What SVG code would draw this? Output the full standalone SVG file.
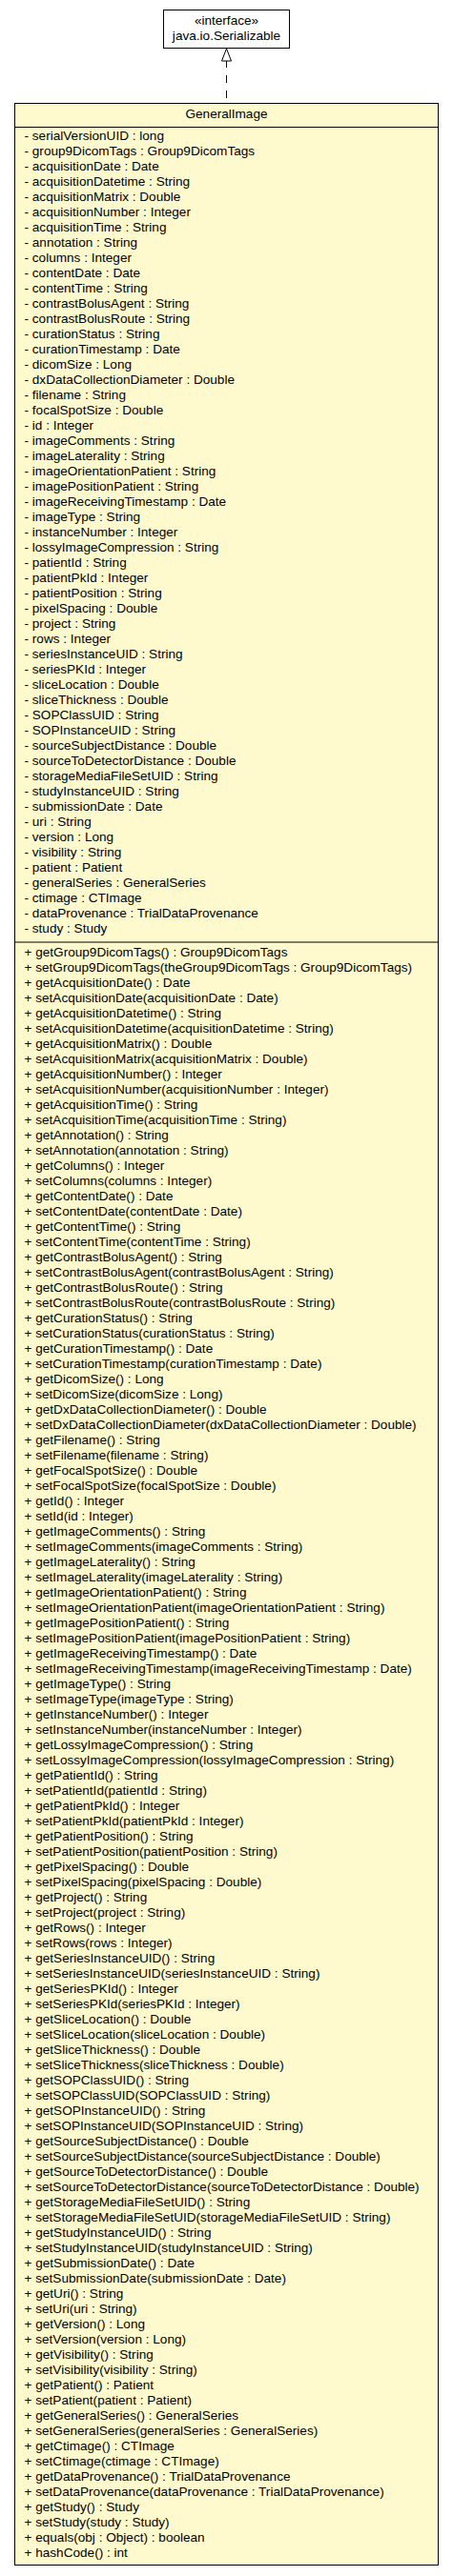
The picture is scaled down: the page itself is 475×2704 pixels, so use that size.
<svg xmlns="http://www.w3.org/2000/svg" width="475" height="2704" viewBox="0 0 475 2704">
<style>
text{font-family:"Liberation Sans",Arial,sans-serif;font-size:12.5px;fill:#000}
.c{text-anchor:middle}
.box{stroke:#000;stroke-width:1}
.cls{fill:#FFFACD}
.ifc{fill:#FFFFFF}
.sep{stroke:#000;stroke-width:1;fill:none}
.dep{stroke:#000;stroke-width:1;fill:none;stroke-dasharray:8,8}
.head{fill:#FFFFFF;stroke:#000;stroke-width:1}
</style>
<rect x="0" y="0" width="475" height="2704" fill="#FFFFFF"/>
<g id="node-serializable">
<rect class="box ifc" x="171.5" y="10.5" width="132" height="40"/>
<g transform="translate(237.5,0) scale(1.088,1)">
<text class="c" x="0" y="26">«interface»</text>
<text class="c" x="0" y="42">java.io.Serializable</text>
</g>
</g>
<g id="node-generalimage">
<rect class="box cls" x="15.5" y="108.5" width="444" height="2584"/>
<line class="sep" x1="15.5" y1="133.5" x2="459.5" y2="133.5"/>
<line class="sep" x1="15.5" y1="989" x2="459.5" y2="989"/>
<g transform="translate(237.5,0) scale(1.088,1)">
<text class="c" x="0" y="124">GeneralImage</text>
</g>
<g transform="translate(25.5,0) scale(1.088,1)">
<text x="0" y="147">- serialVersionUID : long</text>
<text x="0" y="163">- group9DicomTags : Group9DicomTags</text>
<text x="0" y="179">- acquisitionDate : Date</text>
<text x="0" y="195">- acquisitionDatetime : String</text>
<text x="0" y="211">- acquisitionMatrix : Double</text>
<text x="0" y="227">- acquisitionNumber : Integer</text>
<text x="0" y="243">- acquisitionTime : String</text>
<text x="0" y="259">- annotation : String</text>
<text x="0" y="275">- columns : Integer</text>
<text x="0" y="291">- contentDate : Date</text>
<text x="0" y="307">- contentTime : String</text>
<text x="0" y="323">- contrastBolusAgent : String</text>
<text x="0" y="339">- contrastBolusRoute : String</text>
<text x="0" y="355">- curationStatus : String</text>
<text x="0" y="371">- curationTimestamp : Date</text>
<text x="0" y="387">- dicomSize : Long</text>
<text x="0" y="403">- dxDataCollectionDiameter : Double</text>
<text x="0" y="419">- filename : String</text>
<text x="0" y="435">- focalSpotSize : Double</text>
<text x="0" y="451">- id : Integer</text>
<text x="0" y="467">- imageComments : String</text>
<text x="0" y="483">- imageLaterality : String</text>
<text x="0" y="499">- imageOrientationPatient : String</text>
<text x="0" y="515">- imagePositionPatient : String</text>
<text x="0" y="531">- imageReceivingTimestamp : Date</text>
<text x="0" y="547">- imageType : String</text>
<text x="0" y="563">- instanceNumber : Integer</text>
<text x="0" y="579">- lossyImageCompression : String</text>
<text x="0" y="595">- patientId : String</text>
<text x="0" y="611">- patientPkId : Integer</text>
<text x="0" y="627">- patientPosition : String</text>
<text x="0" y="643">- pixelSpacing : Double</text>
<text x="0" y="659">- project : String</text>
<text x="0" y="675">- rows : Integer</text>
<text x="0" y="691">- seriesInstanceUID : String</text>
<text x="0" y="707">- seriesPKId : Integer</text>
<text x="0" y="723">- sliceLocation : Double</text>
<text x="0" y="739">- sliceThickness : Double</text>
<text x="0" y="755">- SOPClassUID : String</text>
<text x="0" y="771">- SOPInstanceUID : String</text>
<text x="0" y="787">- sourceSubjectDistance : Double</text>
<text x="0" y="803">- sourceToDetectorDistance : Double</text>
<text x="0" y="819">- storageMediaFileSetUID : String</text>
<text x="0" y="835">- studyInstanceUID : String</text>
<text x="0" y="851">- submissionDate : Date</text>
<text x="0" y="867">- uri : String</text>
<text x="0" y="883">- version : Long</text>
<text x="0" y="899">- visibility : String</text>
<text x="0" y="915">- patient : Patient</text>
<text x="0" y="931">- generalSeries : GeneralSeries</text>
<text x="0" y="947">- ctimage : CTImage</text>
<text x="0" y="963">- dataProvenance : TrialDataProvenance</text>
<text x="0" y="979">- study : Study</text>
</g>
<g transform="translate(25.5,0) scale(1.088,1)">
<text x="0" y="1004.5">+ getGroup9DicomTags() : Group9DicomTags</text>
<text x="0" y="1020.5">+ setGroup9DicomTags(theGroup9DicomTags : Group9DicomTags)</text>
<text x="0" y="1036.5">+ getAcquisitionDate() : Date</text>
<text x="0" y="1052.5">+ setAcquisitionDate(acquisitionDate : Date)</text>
<text x="0" y="1068.5">+ getAcquisitionDatetime() : String</text>
<text x="0" y="1084.5">+ setAcquisitionDatetime(acquisitionDatetime : String)</text>
<text x="0" y="1100.5">+ getAcquisitionMatrix() : Double</text>
<text x="0" y="1116.5">+ setAcquisitionMatrix(acquisitionMatrix : Double)</text>
<text x="0" y="1132.5">+ getAcquisitionNumber() : Integer</text>
<text x="0" y="1148.5">+ setAcquisitionNumber(acquisitionNumber : Integer)</text>
<text x="0" y="1164.5">+ getAcquisitionTime() : String</text>
<text x="0" y="1180.5">+ setAcquisitionTime(acquisitionTime : String)</text>
<text x="0" y="1196.5">+ getAnnotation() : String</text>
<text x="0" y="1212.5">+ setAnnotation(annotation : String)</text>
<text x="0" y="1228.5">+ getColumns() : Integer</text>
<text x="0" y="1244.5">+ setColumns(columns : Integer)</text>
<text x="0" y="1260.5">+ getContentDate() : Date</text>
<text x="0" y="1276.5">+ setContentDate(contentDate : Date)</text>
<text x="0" y="1292.5">+ getContentTime() : String</text>
<text x="0" y="1308.5">+ setContentTime(contentTime : String)</text>
<text x="0" y="1324.5">+ getContrastBolusAgent() : String</text>
<text x="0" y="1340.5">+ setContrastBolusAgent(contrastBolusAgent : String)</text>
<text x="0" y="1356.5">+ getContrastBolusRoute() : String</text>
<text x="0" y="1372.5">+ setContrastBolusRoute(contrastBolusRoute : String)</text>
<text x="0" y="1388.5">+ getCurationStatus() : String</text>
<text x="0" y="1404.5">+ setCurationStatus(curationStatus : String)</text>
<text x="0" y="1420.5">+ getCurationTimestamp() : Date</text>
<text x="0" y="1436.5">+ setCurationTimestamp(curationTimestamp : Date)</text>
<text x="0" y="1452.5">+ getDicomSize() : Long</text>
<text x="0" y="1468.5">+ setDicomSize(dicomSize : Long)</text>
<text x="0" y="1484.5">+ getDxDataCollectionDiameter() : Double</text>
<text x="0" y="1500.5">+ setDxDataCollectionDiameter(dxDataCollectionDiameter : Double)</text>
<text x="0" y="1516.5">+ getFilename() : String</text>
<text x="0" y="1532.5">+ setFilename(filename : String)</text>
<text x="0" y="1548.5">+ getFocalSpotSize() : Double</text>
<text x="0" y="1564.5">+ setFocalSpotSize(focalSpotSize : Double)</text>
<text x="0" y="1580.5">+ getId() : Integer</text>
<text x="0" y="1596.5">+ setId(id : Integer)</text>
<text x="0" y="1612.5">+ getImageComments() : String</text>
<text x="0" y="1628.5">+ setImageComments(imageComments : String)</text>
<text x="0" y="1644.5">+ getImageLaterality() : String</text>
<text x="0" y="1660.5">+ setImageLaterality(imageLaterality : String)</text>
<text x="0" y="1676.5">+ getImageOrientationPatient() : String</text>
<text x="0" y="1692.5">+ setImageOrientationPatient(imageOrientationPatient : String)</text>
<text x="0" y="1708.5">+ getImagePositionPatient() : String</text>
<text x="0" y="1724.5">+ setImagePositionPatient(imagePositionPatient : String)</text>
<text x="0" y="1740.5">+ getImageReceivingTimestamp() : Date</text>
<text x="0" y="1756.5">+ setImageReceivingTimestamp(imageReceivingTimestamp : Date)</text>
<text x="0" y="1772.5">+ getImageType() : String</text>
<text x="0" y="1788.5">+ setImageType(imageType : String)</text>
<text x="0" y="1804.5">+ getInstanceNumber() : Integer</text>
<text x="0" y="1820.5">+ setInstanceNumber(instanceNumber : Integer)</text>
<text x="0" y="1836.5">+ getLossyImageCompression() : String</text>
<text x="0" y="1852.5">+ setLossyImageCompression(lossyImageCompression : String)</text>
<text x="0" y="1868.5">+ getPatientId() : String</text>
<text x="0" y="1884.5">+ setPatientId(patientId : String)</text>
<text x="0" y="1900.5">+ getPatientPkId() : Integer</text>
<text x="0" y="1916.5">+ setPatientPkId(patientPkId : Integer)</text>
<text x="0" y="1932.5">+ getPatientPosition() : String</text>
<text x="0" y="1948.5">+ setPatientPosition(patientPosition : String)</text>
<text x="0" y="1964.5">+ getPixelSpacing() : Double</text>
<text x="0" y="1980.5">+ setPixelSpacing(pixelSpacing : Double)</text>
<text x="0" y="1996.5">+ getProject() : String</text>
<text x="0" y="2012.5">+ setProject(project : String)</text>
<text x="0" y="2028.5">+ getRows() : Integer</text>
<text x="0" y="2044.5">+ setRows(rows : Integer)</text>
<text x="0" y="2060.5">+ getSeriesInstanceUID() : String</text>
<text x="0" y="2076.5">+ setSeriesInstanceUID(seriesInstanceUID : String)</text>
<text x="0" y="2092.5">+ getSeriesPKId() : Integer</text>
<text x="0" y="2108.5">+ setSeriesPKId(seriesPKId : Integer)</text>
<text x="0" y="2124.5">+ getSliceLocation() : Double</text>
<text x="0" y="2140.5">+ setSliceLocation(sliceLocation : Double)</text>
<text x="0" y="2156.5">+ getSliceThickness() : Double</text>
<text x="0" y="2172.5">+ setSliceThickness(sliceThickness : Double)</text>
<text x="0" y="2188.5">+ getSOPClassUID() : String</text>
<text x="0" y="2204.5">+ setSOPClassUID(SOPClassUID : String)</text>
<text x="0" y="2220.5">+ getSOPInstanceUID() : String</text>
<text x="0" y="2236.5">+ setSOPInstanceUID(SOPInstanceUID : String)</text>
<text x="0" y="2252.5">+ getSourceSubjectDistance() : Double</text>
<text x="0" y="2268.5">+ setSourceSubjectDistance(sourceSubjectDistance : Double)</text>
<text x="0" y="2284.5">+ getSourceToDetectorDistance() : Double</text>
<text x="0" y="2300.5">+ setSourceToDetectorDistance(sourceToDetectorDistance : Double)</text>
<text x="0" y="2316.5">+ getStorageMediaFileSetUID() : String</text>
<text x="0" y="2332.5">+ setStorageMediaFileSetUID(storageMediaFileSetUID : String)</text>
<text x="0" y="2348.5">+ getStudyInstanceUID() : String</text>
<text x="0" y="2364.5">+ setStudyInstanceUID(studyInstanceUID : String)</text>
<text x="0" y="2380.5">+ getSubmissionDate() : Date</text>
<text x="0" y="2396.5">+ setSubmissionDate(submissionDate : Date)</text>
<text x="0" y="2412.5">+ getUri() : String</text>
<text x="0" y="2428.5">+ setUri(uri : String)</text>
<text x="0" y="2444.5">+ getVersion() : Long</text>
<text x="0" y="2460.5">+ setVersion(version : Long)</text>
<text x="0" y="2476.5">+ getVisibility() : String</text>
<text x="0" y="2492.5">+ setVisibility(visibility : String)</text>
<text x="0" y="2508.5">+ getPatient() : Patient</text>
<text x="0" y="2524.5">+ setPatient(patient : Patient)</text>
<text x="0" y="2540.5">+ getGeneralSeries() : GeneralSeries</text>
<text x="0" y="2556.5">+ setGeneralSeries(generalSeries : GeneralSeries)</text>
<text x="0" y="2572.5">+ getCtimage() : CTImage</text>
<text x="0" y="2588.5">+ setCtimage(ctimage : CTImage)</text>
<text x="0" y="2604.5">+ getDataProvenance() : TrialDataProvenance</text>
<text x="0" y="2620.5">+ setDataProvenance(dataProvenance : TrialDataProvenance)</text>
<text x="0" y="2636.5">+ getStudy() : Study</text>
<text x="0" y="2652.5">+ setStudy(study : Study)</text>
<text x="0" y="2668.5">+ equals(obj : Object) : boolean</text>
<text x="0" y="2684.5">+ hashCode() : int</text>
</g>
</g>
<g id="connectors">
<path class="dep" d="M237.5,63 L237.5,108"/>
<polygon class="head" points="237.5,51 232.5,64 242.5,64"/>
</g>
</svg>
